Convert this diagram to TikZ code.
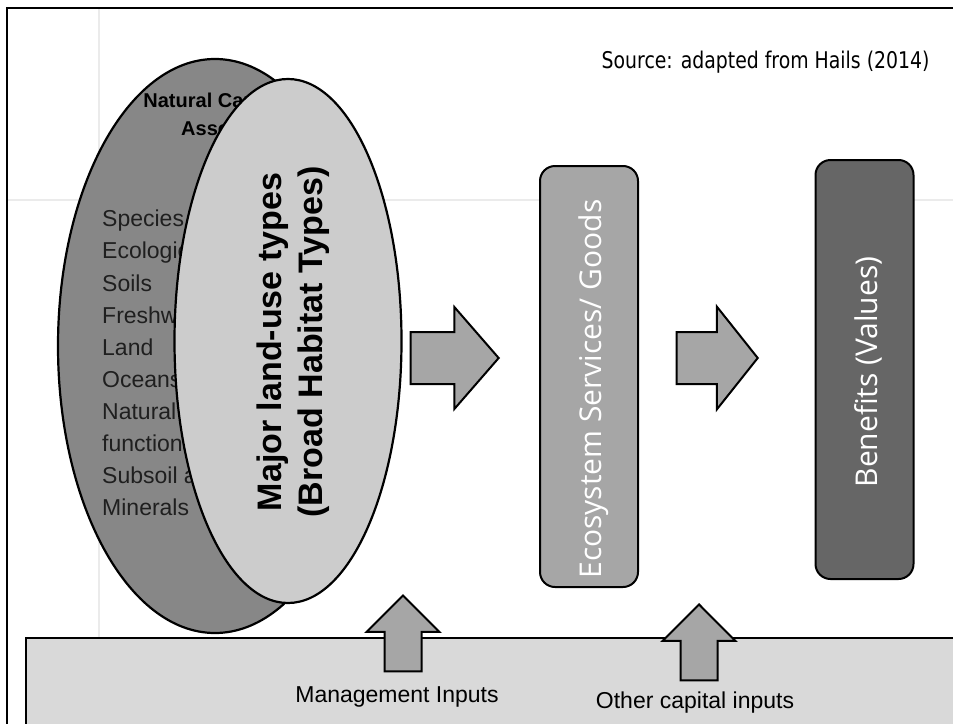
\documentclass[tikz,border=0pt]{standalone}
\usepackage{fontspec}
\setmainfont{Liberation Sans}
\newfontfamily\tahoma[FakeStretch=0.82]{DejaVu Sans}
\newfontfamily\segoe{Open Sans}
\usetikzlibrary{shapes.geometric, shapes.arrows, positioning}
\definecolor{capgray}{HTML}{878787}
\definecolor{habgray}{HTML}{CCCCCC}
\definecolor{midgray}{HTML}{A6A6A6}
\definecolor{darkbox}{HTML}{666666}
\definecolor{panelgray}{HTML}{D9D9D9}
\definecolor{guide}{HTML}{EBEBEB}
\tikzset{
    capital/.style={
        ellipse,
        draw=black,
        line width=2.2pt,
        fill=capgray,
        minimum width=314pt,
        minimum height=574pt,
        inner sep=0pt
    },
    habitat/.style={
        ellipse,
        draw=black,
        line width=2.2pt,
        fill=habgray,
        minimum width=227pt,
        minimum height=524pt,
        inner sep=0pt
    },
    stage/.style={
        rectangle,
        rounded corners=15pt,
        draw=black,
        line width=2pt,
        minimum width=98pt,
        inner sep=0pt
    },
    flow/.style={
        single arrow,
        draw=black,
        line width=2pt,
        fill=midgray,
        inner xsep=0pt,
        inner ysep=25pt,
        anchor=tip
    },
    uparrow/.style={
        flow,
        inner sep=17.5pt,
        shape border rotate=90,
        minimum height=76pt,
        minimum width=71pt,
        single arrow head extend=18pt,
        single arrow tip angle=90
    },
    boxlabel/.style={
        rotate=90,
        text=white,
        font=\segoe\fontsize{30}{36}\selectfont
    }
}

\begin{document}
\begin{tikzpicture}[x=1pt, y=-1pt]
\useasboundingbox (0,0) rectangle (953,723);

% slide guides and frame
\draw [guide, line width=1.5pt] (99,8) -- (99,637);
\draw [guide, line width=1.5pt] (7,200) -- (540,200);
\draw [guide, line width=1.5pt] (914,200) -- (953,200);
\draw [line width=2.2pt] (7,730) -- (7,8) -- (960,8);

\node (srcNote) [anchor=base east, font=\tahoma\fontsize{23}{27}\selectfont] at (933,68)
    {Source: adapted from Hails (2014)};

% bottom panel
\node (inputs) [rectangle, draw=black, line width=2.2pt, fill=panelgray, anchor=north west,
    minimum width=960pt, minimum height=110pt] at (25,637) {};

% natural capital
\node (capital) [capital] at (215,346) {};
\node (capTitle) [align=center, font=\bfseries\fontsize{20}{27.5}\selectfont, anchor=base] at (214,135)
    {Natural Capital\\Assets};
\node (capList) [align=left, anchor=north west, inner sep=0pt, text=black!88,
    font=\fontsize{23}{32.1}\selectfont] at (102,210)
    {Species\\Ecological communities\\Soils\\Freshwater\\Land\\Oceans\\Natural processes\\functions\\Subsoil assets\\Minerals};

% habitat types
\node (habitat) [habitat] at (288,341) {};
\node (habTitle) [rotate=90, align=center, font=\bfseries\fontsize{34}{41}\selectfont] at (293,342)
    {Major land-use types\\(Broad Habitat Types)};

% stages
\node (services) [stage, fill=midgray, minimum height=421pt] at (589,376.5) {};
\node (servLabel) [boxlabel] at (594,389) {Ecosystem Services/ Goods};
\node (benefits) [stage, fill=darkbox, minimum height=419pt] at (864.5,369.5) {};
\node (benLabel) [boxlabel] at (868,372) {Benefits (Values)};

% flows
\node (flowA) [flow, minimum height=88pt, minimum width=100pt,
    single arrow head extend=25pt, single arrow tip angle=98] at (500,358) {};
\node (flowB) [flow, minimum height=81pt, minimum width=101pt,
    single arrow head extend=25.5pt, single arrow tip angle=103] at (759,358) {};
\node (mgmtArrow) [uparrow] at (403,594) {};
\node (capArrow) [uparrow] at (699,603) {};

\node (mgmtLabel) [anchor=base, font=\fontsize{23}{27}\selectfont] at (397,702) {Management Inputs};
\node (capLabel) [anchor=base, font=\fontsize{23}{27}\selectfont] at (695,708) {Other capital inputs};

\end{tikzpicture}
\end{document}
